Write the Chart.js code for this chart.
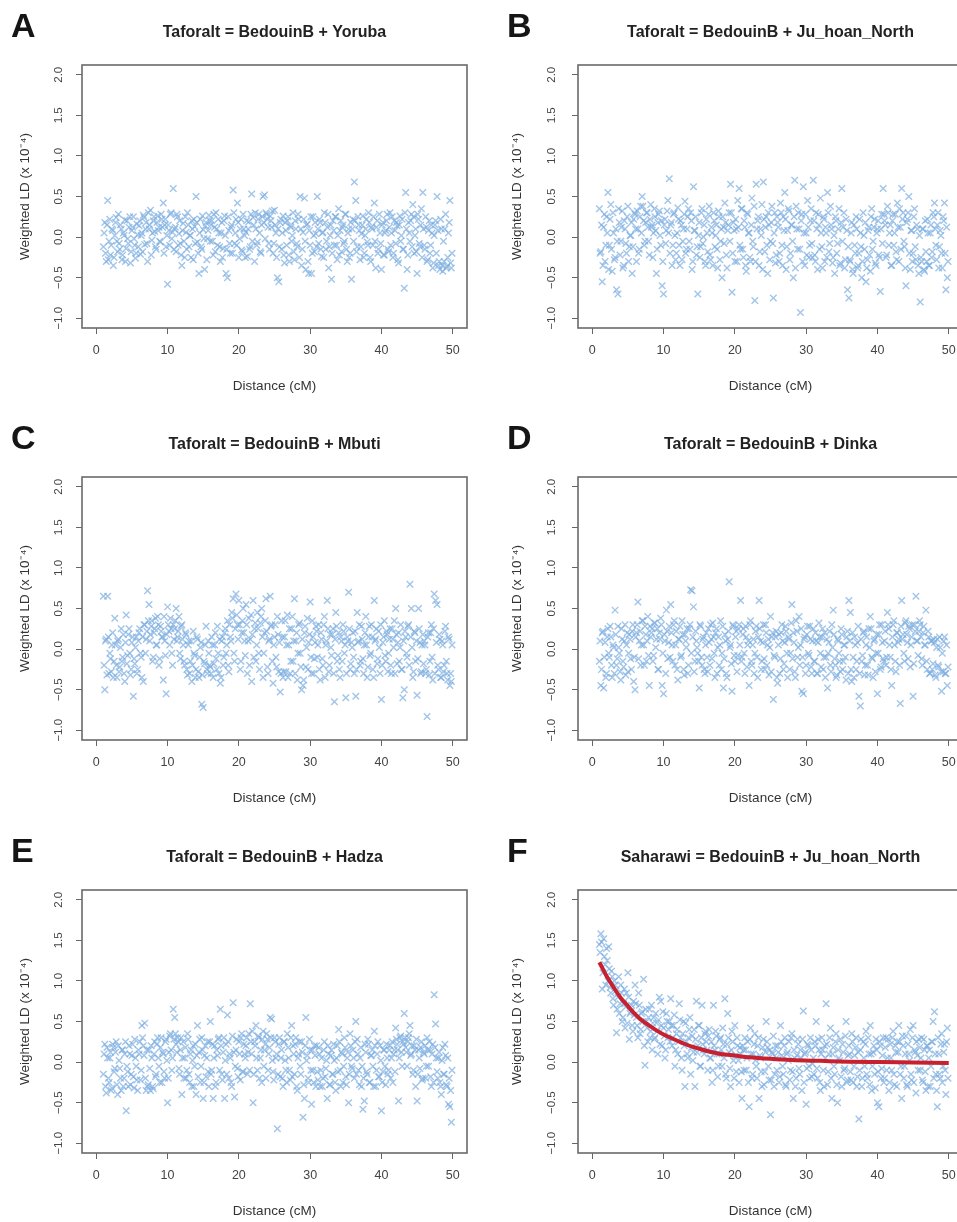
<!DOCTYPE html>
<html>
<head>
<meta charset="utf-8">
<script src="https://cdn.jsdelivr.net/npm/chart.js@4.4.1/dist/chart.umd.min.js"></script>
<style>
  html, body { margin: 0; padding: 0; background: #fff; }
  body { width: 957px; height: 1222px; overflow: hidden; position: relative; }
  canvas { position: absolute; }
</style>
</head>
<body>
<canvas id="panelA" width="478" height="412" style="left:0px;top:0px"></canvas>
<canvas id="panelB" width="478" height="412" style="left:496px;top:0px"></canvas>
<canvas id="panelC" width="478" height="412" style="left:0px;top:412px"></canvas>
<canvas id="panelD" width="478" height="412" style="left:496px;top:412px"></canvas>
<canvas id="panelE" width="478" height="412" style="left:0px;top:825px"></canvas>
<canvas id="panelF" width="478" height="412" style="left:496px;top:825px"></canvas>
<script>
// genetic distance of each bin (cM), two interleaved grids
const distanceCM = [
  1,1.2,1.4,1.6,1.8,2,2.2,2.4,2.6,2.8,3,3.2,3.4,3.6,3.8,4,4.2,4.4,4.6,4.8,5,5.2,5.4,5.6,5.8,
  6,6.2,6.4,6.6,6.8,7,7.2,7.4,7.6,7.8,8,8.2,8.4,8.6,8.8,9,9.2,9.4,9.6,9.8,10,10.2,10.4,10.6,10.8,
  11,11.2,11.4,11.6,11.8,12,12.2,12.4,12.6,12.8,13,13.2,13.4,13.6,13.8,14,14.2,14.4,14.6,14.8,15,15.2,15.4,15.6,15.8,
  16,16.2,16.4,16.6,16.8,17,17.2,17.4,17.6,17.8,18,18.2,18.4,18.6,18.8,19,19.2,19.4,19.6,19.8,20,20.2,20.4,20.6,20.8,
  21,21.2,21.4,21.6,21.8,22,22.2,22.4,22.6,22.8,23,23.2,23.4,23.6,23.8,24,24.2,24.4,24.6,24.8,25,25.2,25.4,25.6,25.8,
  26,26.2,26.4,26.6,26.8,27,27.2,27.4,27.6,27.8,28,28.2,28.4,28.6,28.8,29,29.2,29.4,29.6,29.8,30,30.2,30.4,30.6,30.8,
  31,31.2,31.4,31.6,31.8,32,32.2,32.4,32.6,32.8,33,33.2,33.4,33.6,33.8,34,34.2,34.4,34.6,34.8,35,35.2,35.4,35.6,35.8,
  36,36.2,36.4,36.6,36.8,37,37.2,37.4,37.6,37.8,38,38.2,38.4,38.6,38.8,39,39.2,39.4,39.6,39.8,40,40.2,40.4,40.6,40.8,
  41,41.2,41.4,41.6,41.8,42,42.2,42.4,42.6,42.8,43,43.2,43.4,43.6,43.8,44,44.2,44.4,44.6,44.8,45,45.2,45.4,45.6,45.8,
  46,46.2,46.4,46.6,46.8,47,47.2,47.4,47.6,47.8,48,48.2,48.4,48.6,48.8,49,49.2,49.4,49.6,49.8
];
const distanceCM2 = [
  1.1,1.3,1.5,1.7,1.9,2.1,2.3,2.5,2.7,2.9,3.1,3.3,3.5,3.7,3.9,4.1,4.3,4.5,4.7,4.9,5.1,5.3,5.5,5.7,5.9,
  6.1,6.3,6.5,6.7,6.9,7.1,7.3,7.5,7.7,7.9,8.1,8.3,8.5,8.7,8.9,9.1,9.3,9.5,9.7,9.9,10.1,10.3,10.5,10.7,10.9,
  11.1,11.3,11.5,11.7,11.9,12.1,12.3,12.5,12.7,12.9,13.1,13.3,13.5,13.7,13.9,14.1,14.3,14.5,14.7,14.9,15.1,15.3,15.5,15.7,15.9,
  16.1,16.3,16.5,16.7,16.9,17.1,17.3,17.5,17.7,17.9,18.1,18.3,18.5,18.7,18.9,19.1,19.3,19.5,19.7,19.9,20.1,20.3,20.5,20.7,20.9,
  21.1,21.3,21.5,21.7,21.9,22.1,22.3,22.5,22.7,22.9,23.1,23.3,23.5,23.7,23.9,24.1,24.3,24.5,24.7,24.9,25.1,25.3,25.5,25.7,25.9,
  26.1,26.3,26.5,26.7,26.9,27.1,27.3,27.5,27.7,27.9,28.1,28.3,28.5,28.7,28.9,29.1,29.3,29.5,29.7,29.9,30.1,30.3,30.5,30.7,30.9,
  31.1,31.3,31.5,31.7,31.9,32.1,32.3,32.5,32.7,32.9,33.1,33.3,33.5,33.7,33.9,34.1,34.3,34.5,34.7,34.9,35.1,35.3,35.5,35.7,35.9,
  36.1,36.3,36.5,36.7,36.9,37.1,37.3,37.5,37.7,37.9,38.1,38.3,38.5,38.7,38.9,39.1,39.3,39.5,39.7,39.9,40.1,40.3,40.5,40.7,40.9,
  41.1,41.3,41.5,41.7,41.9,42.1,42.3,42.5,42.7,42.9,43.1,43.3,43.5,43.7,43.9,44.1,44.3,44.5,44.7,44.9,45.1,45.3,45.5,45.7,45.9,
  46.1,46.3,46.5,46.7,46.9,47.1,47.3,47.5,47.7,47.9,48.1,48.3,48.5,48.7,48.9,49.1,49.3,49.5,49.7,49.9
];

// weighted LD (x 1e-4) per bin: first grid, then second grid
const ldYoruba = [
  -.12,.18,-.3,.45,-.05,-.22,.1,-.35,.02,.24,-.18,-.08,.15,-.28,.05,.21,-.14,-.02,.12,-.32,.08,.25,-.1,-.2,.03,
  .14,-.21,.05,.27,-.09,.18,-.3,.1,.33,-.04,.2,.07,-.15,.26,.12,-.06,.22,.42,.15,-.12,-.58,.08,.28,-.02,.6,
  .1,-.18,.25,.04,-.08,-.35,.17,-.25,.06,.3,-.12,.02,.2,-.28,.13,.5,-.06,-.45,.22,-.15,.09,-.4,.18,-.02,.27,
  -.05,.2,-.22,.12,.3,-.1,.05,-.3,.18,-.14,.26,-.45,-.5,.08,-.2,.15,.58,-.08,.22,.42,-.25,.1,-.16,.28,.02,
  .06,-.24,.19,-.12,.53,.24,-.3,.1,-.06,.28,-.18,.15,.5,.52,.3,.22,-.08,.26,.12,-.2,.33,.05,-.5,-.55,.18,
  -.15,.26,-.32,.08,.2,-.22,.14,-.05,.3,-.28,.1,-.12,.22,.5,-.35,.06,.48,-.4,.16,-.45,-.1,-.45,.25,-.18,.04,
  .5,-.08,.18,-.24,.06,.3,-.15,.12,-.38,.02,-.52,.2,-.1,.25,-.28,.35,.08,-.18,.15,-.05,.28,-.3,.1,-.2,-.52,
  .22,.68,.45,-.12,.15,-.28,.04,.26,-.2,.1,-.06,.3,-.25,.12,-.1,.42,-.38,.2,-.15,.05,-.4,.18,-.22,.08,.28,
  -.18,.3,.05,-.25,.2,-.08,.14,-.32,.26,.02,-.15,-.63,.55,-.4,.18,-.05,.28,.4,-.2,.1,-.45,.22,-.12,.35,.55,
  -.1,.25,-.3,.08,-.2,.15,-.38,.02,.2,.5,-.35,-.4,.1,-.42,-.3,.28,-.36,.05,.45,-.38
];
const ldYoruba2 = [
  .05,-.2,.15,-.28,.22,-.1,.08,-.25,.18,-.05,.28,-.15,.1,-.22,.02,-.3,.2,-.08,.25,-.18,.12,-.02,-.26,.16,-.12,
  .2,.02,-.18,.24,.1,-.08,.3,.15,-.22,.05,.25,-.12,.18,.08,-.05,.28,.12,-.2,.22,.02,.15,-.1,.3,.06,-.15,
  .12,.28,-.1,.2,-.22,.08,-.05,.25,-.15,.15,.02,-.25,.1,.22,-.08,.18,-.2,.05,-.12,.26,-.02,.14,-.28,.08,.2,
  .15,-.05,.28,-.18,.1,.22,-.12,.05,-.25,.2,.02,-.15,.25,-.08,.12,-.2,.3,.05,-.1,.18,-.02,.22,-.18,.1,-.25,
  .2,.1,-.15,.28,-.05,.15,.3,-.1,.22,.05,-.2,.25,.18,-.02,.28,.12,-.15,.2,.32,-.08,.15,-.25,.1,-.12,.22,
  .05,-.22,.18,-.1,.25,-.3,.12,.02,-.18,.2,-.08,.28,-.25,.1,-.15,.22,-.05,.15,-.3,.08,.25,-.2,.02,.18,-.12,
  .1,.22,-.15,.05,-.25,.18,-.05,.28,-.12,.15,-.2,.08,.25,-.1,.02,-.22,.2,.12,-.08,.28,-.15,.05,-.25,.18,.1,
  -.05,.2,-.18,.25,.08,-.12,.15,-.25,.02,.22,-.1,.18,-.3,.1,.25,-.05,.12,-.2,.28,-.08,.15,-.22,.05,.2,-.15,
  .12,-.1,.25,-.2,.08,.18,-.28,.15,-.05,.22,-.15,.3,.1,-.22,.05,.2,-.12,.25,.02,-.18,.28,-.08,.15,-.25,.1,
  -.15,.12,-.28,.2,-.1,.05,-.32,.15,-.2,.08,-.3,.22,-.35,-.05,.1,-.38,-.25,.18,-.32,-.2
];
const ldJuhoan = [
  .35,-.18,-.55,.12,-.3,.25,.55,-.1,.4,-.42,.05,-.25,-.65,-.7,.18,-.05,.32,-.35,.1,-.2,.38,-.12,.02,-.45,.22,
  .28,-.3,.1,-.15,.38,.5,.2,-.05,.3,.12,-.22,.4,.15,.05,.25,-.45,.18,.32,-.1,-.6,-.7,.22,.08,.45,.72,
  .15,-.35,.28,.02,-.2,.36,-.1,.2,-.28,.1,.44,-.15,.25,-.05,.3,-.4,.62,.08,-.22,-.7,.18,-.12,.35,0,-.3,
  .22,-.18,.38,-.28,.05,.3,-.12,.15,-.38,.25,-.05,-.5,.12,.42,-.22,.08,.3,.65,-.68,.18,-.3,.1,.45,.6,-.15,
  .35,-.25,.12,-.42,.28,.05,-.3,.48,-.12,-.78,.65,.2,-.35,.1,.4,.68,-.18,.25,-.45,.15,-.05,.38,-.75,.3,-.22,
  .18,-.3,.42,-.1,.25,.55,-.4,.08,.32,-.2,.15,-.5,.7,.38,-.15,.1,-.93,.28,.62,-.35,.05,.45,-.25,.2,-.08,
  .7,-.22,.3,-.4,.15,.48,-.12,.25,-.3,.05,.55,-.18,.38,.1,-.25,-.45,.2,-.08,.35,-.32,.6,.12,-.38,.22,-.65,
  -.75,-.3,.18,-.45,-.1,.25,-.38,-.2,.05,-.5,.3,-.15,-.55,-.28,.12,-.42,.35,-.05,.22,-.35,.1,-.22,-.67,.28,.6,
  .2,-.25,.38,-.1,.15,-.35,.28,.05,-.18,.42,-.3,.12,.6,.3,-.12,-.6,.22,.5,-.4,.08,-.2,.35,-.28,.1,-.45,
  -.8,-.3,.1,-.42,-.18,.22,-.35,.05,-.25,.3,.42,-.1,.15,-.38,.08,-.2,.25,.42,-.65,-.5
];
const ldJuhoan2 = [
  -.2,.15,-.35,.28,-.1,.05,-.4,.22,-.15,.3,-.28,.1,-.05,.35,-.22,.12,-.38,.2,-.08,.25,-.3,.02,.18,-.12,.3,
  .1,.32,-.2,.25,.05,.38,-.1,.18,.3,-.05,.22,.12,-.25,.35,.08,-.15,.28,.02,.2,-.3,.15,-.08,.32,.05,-.2,
  .18,-.1,.3,-.28,.05,.22,-.35,.15,-.05,.28,-.2,.1,.35,-.15,.2,-.3,.08,.25,-.12,.02,-.25,.3,-.08,.15,-.35,
  .05,.28,-.22,.12,-.35,.2,.02,-.15,.32,-.28,.1,.25,-.08,.18,-.38,.15,-.05,.3,-.2,.08,.22,-.3,.12,-.1,.35,
  -.15,.2,-.35,.3,.05,-.25,.15,-.05,.38,-.3,.1,.25,-.18,.02,-.4,.22,.12,-.1,.3,-.28,.18,-.08,.05,-.32,.25,
  .12,-.2,.3,-.35,.08,.22,-.12,.35,-.28,.15,-.05,.25,-.38,.1,.3,-.15,.2,-.3,.05,.28,-.22,.12,-.1,.35,-.25,
  .2,-.3,.1,.28,-.15,.05,-.38,.22,.12,-.25,.3,-.08,.15,-.32,.02,.25,-.2,.1,-.35,.18,-.05,.3,-.28,.08,-.12,
  -.28,.05,-.4,.15,-.2,.1,-.35,.22,-.12,-.3,.02,.18,-.38,.08,-.22,.25,-.15,.12,-.32,.05,.2,-.25,.1,-.08,.28,
  .15,-.22,.3,.05,-.35,.2,-.1,.28,-.28,.12,.35,-.15,.22,-.05,-.38,.18,.3,-.2,.08,-.3,.25,-.12,.15,-.35,.02,
  -.25,.1,-.4,.2,-.3,.05,-.35,.15,-.18,.25,.1,-.28,.3,-.12,.02,-.38,.2,-.2,.12,-.3
];
const ldMbuti = [
  .65,-.5,.12,.65,-.3,-.12,.05,-.35,.38,-.2,.1,-.28,.02,-.15,.18,-.4,.42,-.08,.25,-.32,.08,-.58,-.18,.15,-.25,
  .2,-.05,-.35,-.4,.3,.12,.72,.55,.18,.35,-.1,.25,.05,.4,-.2,.28,.15,-.38,.1,-.55,.52,.22,.38,-.05,.3,
  .25,.5,.15,.4,-.12,.3,.05,-.2,.18,-.32,.1,-.15,-.4,.22,-.08,-.25,.12,-.35,.02,-.68,-.72,-.18,.28,-.3,-.05,
  -.22,.15,-.35,.05,-.12,.28,-.3,-.42,.1,-.2,.2,-.05,.35,-.28,.15,.45,.62,-.15,.68,.3,.6,-.25,.2,.5,.1,
  .55,-.3,.38,.12,-.4,.6,.25,-.15,.45,-.05,.32,.5,-.35,.2,.62,-.22,.1,.65,.3,-.42,.15,-.1,.4,-.28,-.53,
  .35,-.35,.15,-.28,.42,.05,-.3,.25,-.15,.62,.1,-.38,.3,-.05,-.5,-.45,.2,-.22,.38,.08,.58,-.3,.15,-.12,.28,
  -.1,.3,-.38,.12,-.2,.4,.05,.6,-.28,.18,-.08,.25,-.65,.45,-.15,.2,-.35,.1,.3,-.05,-.6,.15,.7,-.25,.08,
  .2,-.3,-.58,.45,.1,-.2,.28,-.12,.05,.4,-.35,.15,-.08,.3,-.25,.6,.12,-.18,.22,-.3,-.62,.08,.35,-.15,.18,
  -.05,.25,-.3,.12,.35,.5,-.18,.2,.02,-.25,-.6,-.5,.15,-.1,.3,.8,.5,-.35,.22,-.15,-.57,.5,.08,-.28,.18,
  .1,-.3,-.83,.2,-.15,.3,-.38,.68,.6,.55,-.25,.12,-.35,.05,-.2,.28,-.3,.15,-.45,-.4
];
const ldMbuti2 = [
  -.2,.1,-.32,.15,-.05,-.28,.2,-.15,.05,-.35,.12,-.22,.25,-.1,-.3,.08,-.18,.18,-.05,-.25,.15,-.12,.02,-.3,.1,
  .25,-.1,.15,.3,-.05,.22,.35,.1,.28,-.15,.2,.38,.05,.3,-.12,.22,.15,.4,-.08,.18,.3,.05,.25,-.2,.12,
  .35,.1,.22,-.05,.28,.12,-.15,.2,-.25,.05,-.3,.1,-.2,-.05,-.35,.15,-.28,-.1,.08,-.32,-.15,.05,-.25,.1,-.2,
  -.3,.05,-.18,.2,-.25,-.05,.12,-.35,.15,-.1,.25,.05,-.2,.3,.1,.38,-.05,.25,.42,.12,.3,-.15,.35,.2,-.08,
  .3,.1,-.2,.42,.18,-.1,.32,.05,.25,-.25,.4,.15,-.05,.35,.22,-.3,.12,.28,-.15,.05,.3,-.22,.18,.08,-.3,
  .15,-.28,.35,.05,-.35,.25,-.15,.4,.1,-.3,.2,-.05,.32,-.22,.12,-.38,.28,.02,-.25,.18,-.1,.35,-.3,.08,.22,
  .05,-.25,.2,-.12,.3,-.35,.1,.25,-.2,.02,.18,-.3,.12,.28,-.08,-.25,.15,-.15,.22,.05,-.3,.1,.25,-.18,.02,
  -.1,.22,-.25,.08,.3,-.15,.12,-.3,.2,.05,-.22,.28,-.05,.15,-.35,.1,.25,-.12,.02,.3,-.2,.15,-.08,.22,-.28,
  .12,-.2,.25,.02,-.3,.18,.08,-.15,.3,-.25,.1,.22,-.05,.28,-.2,.15,.02,-.28,.2,.1,-.12,.25,-.3,.05,-.18,
  .05,-.25,.15,-.32,.2,-.1,.25,-.3,.08,-.2,.18,-.35,.1,-.28,.22,-.15,-.38,.12,-.3,.05
];
const ldDinka = [
  -.15,-.45,.2,-.48,.08,-.3,.25,-.1,.15,-.35,.02,.48,-.2,.28,-.05,-.38,.12,-.22,.3,.05,-.28,.18,-.12,.22,-.4,
  -.5,.2,.58,.1,-.2,.35,.05,.28,-.15,.4,-.45,.15,.25,-.08,.32,.12,-.25,.2,.38,-.45,-.55,.1,.48,-.12,.28,
  .55,.05,.3,-.2,.22,-.38,.12,-.1,.35,-.25,.18,.02,-.3,.25,.73,.72,.52,-.15,.1,-.05,-.48,.28,-.2,.15,-.3,
  .2,-.28,.08,.3,-.12,.15,-.35,.25,.02,-.2,.35,-.05,-.48,.18,-.3,.12,.83,.05,-.52,.28,-.15,.22,-.08,.3,.6,
  -.1,.25,-.3,.15,.05,-.45,.35,-.2,.12,-.05,.28,-.35,.6,.1,-.15,.3,-.25,.2,.05,-.32,.4,.15,-.62,-.1,.22,
  -.42,.18,-.12,.3,-.25,.08,.22,-.35,.12,-.05,.55,.2,-.28,.35,-.1,.4,.05,-.52,-.55,.15,-.2,.28,-.08,.12,-.3,
  .25,-.15,.1,-.3,.32,-.05,.15,-.25,.2,-.1,-.48,.08,-.2,.3,.48,-.12,-.35,.12,-.05,-.28,.18,-.15,.05,-.38,.22,
  .6,.45,-.4,-.1,.15,-.25,.08,-.58,-.7,-.15,.2,-.32,.05,-.2,.25,.4,-.1,-.35,.12,-.05,-.55,.18,-.25,.3,-.12,
  .1,-.2,.45,.25,-.1,-.45,.3,.05,-.28,.2,.12,-.67,.6,.18,-.15,.35,.08,.28,-.22,.15,-.58,.3,.65,.1,.22,
  .3,-.12,.2,.05,.48,-.25,.15,-.3,.1,-.18,.08,-.35,.12,-.22,.02,-.52,-.28,.15,-.3,-.45
];
const ldDinka2 = [
  .1,-.25,.22,-.1,-.35,.15,-.05,.28,-.2,.05,-.3,.18,-.12,.02,-.28,.25,-.15,.1,-.32,.2,-.05,.12,-.25,.3,-.1,
  .15,.3,-.12,.22,.05,.35,-.2,.18,.1,-.08,.28,.2,-.15,.32,.02,.25,-.25,.12,.3,-.05,.18,-.3,.22,.08,-.1,
  .2,-.15,.35,.05,-.25,.12,.28,-.08,.18,-.32,.1,.25,-.2,.3,-.05,.15,-.28,.22,.02,-.15,.3,-.1,.12,-.25,.05,
  -.1,.25,-.2,.12,.32,-.05,.2,-.3,.15,.05,-.25,.28,-.12,.1,-.35,.22,.02,-.18,.3,-.08,.15,-.28,.25,.05,-.15,
  .18,-.05,.28,-.22,.1,.3,-.15,.05,-.3,.22,-.1,.15,.25,-.25,.08,-.12,.3,-.2,.12,.02,-.28,.2,-.08,.15,-.35,
  .05,-.3,.2,.1,-.18,.28,-.05,.15,-.25,.32,-.12,.08,-.35,.22,.02,-.2,.25,-.1,.12,-.3,.18,-.05,.28,-.22,.1,
  -.15,.2,-.3,.08,.15,-.22,.25,-.1,-.35,.12,-.05,.22,-.28,.02,.18,-.2,-.32,.1,-.15,.25,-.25,.05,-.1,.15,-.3,
  .1,-.25,.2,-.35,.05,-.15,.28,-.3,.12,-.08,.22,-.2,.15,-.32,.02,.25,-.12,.1,-.28,.18,-.05,.3,-.22,.08,-.15,
  .22,-.1,.3,.05,-.25,.15,.35,-.15,.2,.08,-.2,.28,.12,-.05,.32,.18,-.12,.25,.05,.3,-.18,.22,.1,-.08,.35,
  .15,-.2,.28,.05,-.15,.22,-.3,.1,-.25,.12,-.32,.02,-.2,.15,-.28,-.05,.1,-.3,.05,-.22
];
const ldHadza = [
  -.15,.22,-.38,.05,-.25,.12,-.32,.18,-.08,.25,-.4,.02,-.2,.15,-.3,.1,-.6,-.12,.2,-.28,.08,-.18,.28,-.05,-.35,
  .1,-.22,.45,.2,.48,-.35,-.3,.15,-.35,.05,-.33,.25,-.15,.3,-.05,.18,-.25,.1,-.2,.28,-.5,.12,.35,-.1,.65,
  .55,.22,.3,-.08,.15,-.4,.25,.05,-.2,.35,-.15,.1,-.3,.2,-.05,-.4,.45,.12,-.25,.3,-.45,.08,-.18,.25,-.3,
  .5,-.1,-.45,.2,-.25,.08,.3,.65,-.15,.12,-.45,.22,.58,-.2,.05,-.3,.73,-.43,.15,-.08,.25,-.22,.35,-.12,.1,
  .2,-.15,.35,.72,.1,-.5,.25,.45,-.1,.3,.05,-.25,.38,.15,-.2,.28,.1,.55,.53,-.12,.3,.05,-.82,.22,-.18,
  .15,-.3,.25,-.1,.35,.05,-.22,.45,.2,-.15,.3,-.35,.1,-.05,.25,-.68,-.45,.55,.08,-.25,.15,-.52,-.1,.2,-.3,
  -.12,.18,-.3,.05,-.2,.25,-.08,-.45,.1,-.28,.15,-.15,.02,-.35,.2,.4,-.1,.12,-.25,.3,-.18,.05,-.5,.35,-.05,
  .15,-.2,.5,.28,-.1,.05,-.3,-.58,-.48,.12,-.15,.22,-.25,.08,-.05,.38,-.3,.1,-.18,.2,-.6,-.12,.15,-.28,.05,
  -.1,.2,.05,-.25,.15,.42,.22,-.48,.3,.12,.25,.6,.18,-.05,.3,.45,.1,-.15,.2,-.3,-.48,.15,-.08,.25,-.2,
  .1,-.2,.3,-.05,.15,-.3,.22,.83,.47,-.12,.05,-.25,-.4,.18,-.15,.08,-.3,-.52,-.55,-.74
];
const ldHadza2 = [
  .1,-.3,.18,-.2,.05,-.35,.22,-.12,.12,-.28,.2,-.08,-.35,.15,-.2,.25,-.05,-.3,.1,-.15,.22,-.32,.05,-.22,.15,
  .25,-.1,.3,.08,-.2,.15,-.28,-.08,.2,-.3,.1,-.18,.22,.05,-.25,.3,.12,-.12,.25,.02,-.2,.32,.15,.05,.28,
  .35,.12,.25,-.15,.3,.05,-.2,.18,-.1,.28,-.25,.15,.02,-.3,.22,.08,-.18,.28,-.05,.15,-.25,.2,.05,-.12,.25,
  -.15,.22,.05,-.3,.15,.28,-.1,.2,-.22,.3,.02,-.15,.25,.1,-.25,.32,.12,-.05,.28,-.18,.1,.3,-.12,.22,.05,
  .3,.12,-.1,.25,.38,-.15,.2,.05,.32,-.2,.15,.28,-.05,.22,.35,-.1,.18,.3,.02,-.22,.25,.1,-.15,.3,.05,
  -.2,.25,.02,-.25,.18,-.1,.3,-.18,.1,.22,-.3,.05,.25,-.15,.12,-.28,.2,.02,-.2,.28,-.1,.15,-.25,.08,.2,
  -.22,.1,-.1,-.3,.15,-.18,.02,.2,-.28,.08,-.15,.22,-.25,.05,-.12,.25,-.3,.1,-.05,.18,-.28,.12,-.15,.2,-.08,
  .05,.25,-.15,.1,-.28,.18,-.05,-.2,.22,-.12,.28,-.25,.08,.15,-.3,.2,-.1,.25,-.18,.02,-.25,.15,-.05,.22,-.15,
  .15,-.2,.25,.1,-.12,.28,.15,.05,.32,-.05,.22,.3,.12,.25,.35,.08,.2,-.1,.15,.28,-.15,.05,.18,-.22,.12,
  .2,-.05,.15,.25,-.18,.1,-.25,.18,.05,-.2,.12,-.3,.02,-.15,.22,-.28,.05,-.2,-.35,-.1
];
const ldSaharawi = [
  1.45,1.58,.9,1.52,1.2,1.4,1,1.15,.85,1.05,.7,.95,.36,.8,.6,.95,.5,.72,.42,.85,1.1,.28,.62,.45,.75,
  .95,.55,.3,.7,.4,.62,1.02,-.04,.5,.25,.65,.38,.15,.55,.3,.48,.1,.8,.75,.2,.42,.05,.6,.3,.5,
  .78,.2,.45,-.05,.35,.1,.72,.3,-.1,.5,-.3,.25,.05,.4,-.15,.32,.12,-.3,.75,.2,.45,-.05,.7,.15,.35,
  .25,-.1,.4,.05,-.25,.7,.15,.32,-.18,.1,.3,-.05,.22,.78,-.2,.6,.12,-.3,.38,.02,.45,-.12,.2,-.25,.1,
  -.45,.15,.3,-.1,.25,-.55,.42,-.2,.1,.35,-.05,.2,-.45,.05,-.3,.28,-.12,.5,.18,-.22,-.65,.12,.32,-.15,.05,
  .2,-.25,.45,.08,-.15,.3,-.3,.12,.25,-.1,.35,-.45,.05,-.2,.28,-.08,.15,-.35,.63,.1,-.52,.22,-.05,.3,-.18,
  .05,.25,.5,-.2,.15,-.35,.3,-.1,.2,.72,-.28,.1,.42,-.45,.18,-.15,.35,-.5,.05,.28,-.3,.12,-.08,.5,-.22,
  .2,-.12,.35,-.25,.08,.3,-.18,-.7,.15,-.3,.25,-.05,.38,-.2,.1,.45,-.35,.12,-.15,.28,-.5,-.55,.2,-.08,.3,
  -.2,.3,.05,-.35,.22,-.1,.38,-.28,.12,.25,.45,-.15,-.45,.2,-.05,.32,-.3,.1,.4,-.22,.45,.15,-.38,.08,.28,
  -.1,.3,-.25,.15,-.35,.2,.05,-.3,.25,.5,.62,-.15,-.55,.1,-.2,.35,-.05,.22,-.4,.42
];
const ldSaharawi2 = [
  1.35,1.48,1.1,1.3,.95,1.25,1.42,.92,1.12,.78,1,.88,.65,1.05,.72,.85,.55,.9,.68,.48,.8,.6,.7,.38,.58,
  .72,.45,.85,.35,.6,.5,.2,.65,.42,.55,.3,.7,.48,.28,.6,.38,.52,.22,.45,.62,.32,.15,.5,.4,.25,
  .45,.3,.58,.15,.4,.25,.52,.05,.35,.2,.48,.1,.3,.55,.18,.02,.4,.28,.12,.45,-.05,.3,.22,.1,.38,
  .15,.32,.05,.25,-.1,.2,.38,.1,-.05,.28,.15,.42,.05,-.15,.22,.3,-.08,.15,.25,-.2,.08,.3,.02,.18,-.12,
  .2,-.1,.15,.05,-.25,.28,.1,-.15,.22,.02,-.2,.3,.08,-.12,.18,-.28,.12,.25,-.05,.15,-.22,.1,-.3,.2,-.1,
  .12,-.18,.25,-.05,.2,-.28,.1,.02,-.22,.3,-.12,.15,-.3,.08,.22,-.15,.05,.28,-.25,.12,-.08,.2,-.2,.15,-.02,
  -.15,.2,-.08,.28,-.25,.1,.15,-.3,.05,.22,-.12,.3,-.2,.1,-.05,.25,-.28,.15,.02,-.18,.22,-.1,.32,-.25,.08,
  .1,-.22,.25,-.05,.18,-.3,.12,-.1,.28,-.2,.05,.22,-.15,.3,-.28,.1,-.05,.2,-.32,.15,-.12,.25,-.2,.08,-.25,
  .18,-.1,.28,-.25,.05,.3,-.15,.2,-.3,.12,.25,-.05,.32,-.2,.1,-.28,.22,.02,-.15,.3,-.25,.12,.25,-.1,.18,
  .05,-.22,.28,-.12,.2,-.3,.15,-.05,.25,-.2,.1,-.35,.3,-.15,.22,-.25,.12,-.1,.25,-.2
];

// fitted exponential decay for the Saharawi curve
const fitDistance = [1,2,3,4,5,6,7,8,9,10,12,14,16,18,20,22,25,28,32,36,40,45,50];
const fitSaharawi = [1.23,1.06,.92,.79,.69,.59,.51,.45,.39,.34,.26,.19,.14,.1,.08,.06,.04,.025,.015,.005,0,-.005,-.01];

const xTickValues = [0, 10, 20, 30, 40, 50];
const yTickValues = [-1, -0.5, 0, 0.5, 1, 1.5, 2];

const panelIds = ["panelA", "panelB", "panelC", "panelD", "panelE", "panelF"];
const panelLetters = ["A", "B", "C", "D", "E", "F"];
const panelTitles = [
  "Taforalt = BedouinB + Yoruba",
  "Taforalt = BedouinB + Ju_hoan_North",
  "Taforalt = BedouinB + Mbuti",
  "Taforalt = BedouinB + Dinka",
  "Taforalt = BedouinB + Hadza",
  "Saharawi = BedouinB + Ju_hoan_North"
];
const panelSeries = [
  [ldYoruba, ldYoruba2],
  [ldJuhoan, ldJuhoan2],
  [ldMbuti, ldMbuti2],
  [ldDinka, ldDinka2],
  [ldHadza, ldHadza2],
  [ldSaharawi, ldSaharawi2]
];

const FONT = "'Liberation Sans', Arial, Helvetica, sans-serif";
const crossColor = "rgba(122, 172, 224, 0.7)";
Chart.defaults.font.family = FONT;

// box, panel letter and main title
const panelDecor = {
  id: "panelDecor",
  afterDatasetsDraw(chart, args, opts) {
    const { ctx, chartArea } = chart;
    ctx.save();
    ctx.strokeStyle = "#6a6a6a";
    ctx.lineWidth = 1.6;
    ctx.strokeRect(chartArea.left, chartArea.top, chartArea.right - chartArea.left, chartArea.bottom - chartArea.top);

    ctx.fillStyle = "#151515";
    ctx.font = "bold 34px " + FONT;
    ctx.textAlign = "left";
    ctx.textBaseline = "alphabetic";
    ctx.fillText(opts.letter, 11, 37);

    ctx.fillStyle = "#222";
    ctx.font = "bold 16px " + FONT;
    ctx.textAlign = "center";
    ctx.textBaseline = "middle";
    ctx.fillText(opts.title, (chartArea.left + chartArea.right) / 2, 33);
    ctx.restore();
  }
};

function fmtY(v) {
  const s = Math.abs(v).toFixed(1);
  return v < 0 ? "\u2212" + s : s;
}

function crossSet(xs, ys) {
  return {
    data: xs.map((d, k) => ({ x: d, y: ys[k] })),
    showLine: false,
    pointStyle: "crossRot",
    pointRadius: 4.6,
    pointHoverRadius: 4.6,
    pointBorderWidth: 1.4,
    pointBorderColor: crossColor,
    pointBackgroundColor: crossColor,
    order: 2
  };
}

function drawPanel(i) {
  const col = i % 2;
  const [first, second] = panelSeries[i];
  const datasets = [crossSet(distanceCM, first), crossSet(distanceCM2, second)];
  if (i === 5) {
    datasets.push({
      data: fitDistance.map((d, k) => ({ x: d, y: fitSaharawi[k] })),
      showLine: true,
      pointRadius: 0,
      borderColor: "#c7202e",
      borderWidth: 4,
      cubicInterpolationMode: "monotone",
      order: 1
    });
  }

  const tickGrid = { drawOnChartArea: false, drawTicks: true, tickLength: 6, color: "#666", lineWidth: 1 };

  new Chart(document.getElementById(panelIds[i]), {
    type: "scatter",
    data: { datasets },
    options: {
      responsive: false,
      animation: false,
      devicePixelRatio: 1,
      layout: { padding: { top: 65, right: 11, bottom: 0, left: 0 } },
      plugins: {
        legend: { display: false },
        tooltip: { enabled: false },
        panelDecor: { letter: panelLetters[i], title: panelTitles[i] }
      },
      scales: {
        x: {
          type: "linear",
          min: -2,
          max: 52,
          afterBuildTicks: (s) => { s.ticks = xTickValues.map((v) => ({ value: v })); },
          afterFit: (s) => { s.height = 84; },
          grid: tickGrid,
          border: { display: false },
          ticks: {
            padding: 9,
            color: "#444",
            maxRotation: 0,
            font: { size: 12.5 },
            callback: (v) => String(v)
          },
          title: {
            display: true,
            text: "Distance (cM)",
            color: "#333",
            font: { size: 13.5 },
            padding: { top: 0, bottom: 18 }
          }
        },
        y: {
          type: "linear",
          min: -1.12,
          max: 2.12,
          afterBuildTicks: (s) => { s.ticks = yTickValues.map((v) => ({ value: v })); },
          afterFit: (s) => { s.width = 82; },
          grid: tickGrid,
          border: { display: false },
          ticks: {
            padding: col === 0 ? 6 : 9,
            crossAlign: "center",
            minRotation: 90,
            maxRotation: 90,
            color: "#444",
            font: { size: 11.5 },
            callback: (v) => fmtY(v)
          },
          title: {
            display: true,
            text: "Weighted LD (x 10\u207B\u2074)",
            color: "#333",
            font: { size: 13.5 },
            padding: { top: col === 0 ? 17 : 13, bottom: 0 }
          }
        }
      }
    },
    plugins: [panelDecor]
  });
}

for (let i = 0; i < 6; i++) drawPanel(i);
</script>
</body>
</html>
